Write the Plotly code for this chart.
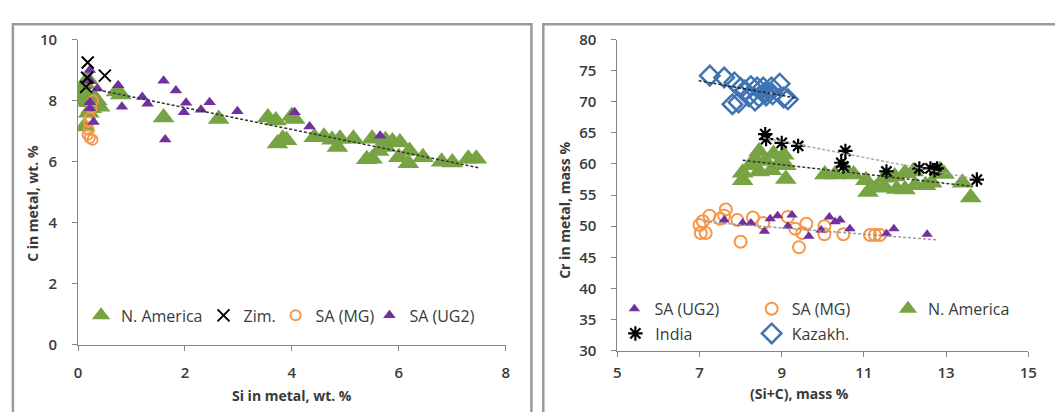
import plotly.graph_objects as go

# ---------------- Left panel data: C vs Si in metal ----------------
na_si = [0.0, 0.05, 0.12, 0.18, 0.12, 0.2, 0.3, 0.35, 0.25, 0.4, 0.12, 0.2, 0.72, 0.8, 1.6, 2.63,
         3.55, 3.7, 3.73, 3.83, 3.9, 4.0, 4.05, 4.42, 4.6, 4.75, 4.9, 4.85, 5.15, 5.4, 5.5, 5.5,
         5.62, 5.75, 5.88, 5.75, 6.0, 6.02, 6.18, 6.2, 6.45, 6.8, 7.0, 7.3, 7.45]
na_c = [8.25, 8.0, 8.55, 8.7, 8.2, 7.95, 8.1, 8.0, 7.75, 7.8, 7.15, 7.6, 8.3, 8.2, 7.45, 7.4,
        7.45, 7.35, 6.6, 6.75, 6.7, 7.5, 7.4, 6.8, 6.82, 6.72, 6.75, 6.48, 6.75, 6.08, 6.75, 6.1,
        6.35, 6.7, 6.66, 6.48, 6.15, 6.63, 5.95, 6.35, 6.15, 6.0, 5.97, 6.1, 6.1]
zim_si = [0.18, 0.5, 0.17, 0.15]
zim_c = [9.25, 8.82, 8.75, 8.45]
mg_si = [0.28, 0.25, 0.22, 0.2, 0.2, 0.18, 0.22, 0.27]
mg_c = [8.0, 7.75, 7.45, 7.3, 7.05, 6.88, 6.78, 6.72]
ug_si = [0.22, 0.22, 0.36, 0.22, 0.22, 0.29, 0.75, 0.82, 1.2, 1.3, 1.6, 1.83, 2.02, 1.98, 2.3,
         2.46, 2.98, 1.63, 4.05, 4.33, 5.65]
ug_c = [9.0, 8.65, 8.4, 7.95, 7.75, 7.3, 8.5, 7.8, 8.12, 7.9, 8.65, 8.33, 7.93, 7.62, 7.7,
        7.95, 7.65, 6.73, 7.62, 7.15, 6.85]
left_trend_si = [0.1, 7.5]
left_trend_c = [8.45, 5.8]

# ---------------- Right panel data: Cr vs (Si+C) ----------------
r_ug_x = [7.6, 8.05, 8.25, 8.58, 8.72, 8.9, 9.25, 9.15, 9.66, 9.96, 10.16, 10.3, 10.42, 10.66,
          11.55, 11.73, 12.54]
r_ug_y = [51.0, 50.5, 50.5, 49.2, 51.2, 51.7, 51.8, 50.0, 48.4, 49.4, 51.5, 50.7, 51.0, 49.6,
          48.8, 49.6, 48.7]
r_mg_x = [7.0, 7.03, 7.15, 7.08, 7.24, 7.5, 7.6, 7.64, 7.92, 8.0, 8.3, 8.55, 9.15, 9.33, 9.42,
          9.5, 9.6, 10.04, 10.04, 10.5, 11.15, 11.27, 11.39]
r_mg_y = [50.2, 48.9, 48.9, 50.8, 51.7, 51.2, 51.7, 52.7, 51.0, 47.5, 51.4, 50.5, 51.5, 49.6, 46.6,
          48.9, 50.4, 50.0, 48.7, 48.7, 48.6, 48.6, 48.6]
r_na_x = [8.05, 8.05, 8.25, 8.35, 8.45, 8.45, 8.6, 8.75, 8.8, 8.95, 9.05, 9.1, 9.1, 10.05, 10.3,
          10.6, 10.75, 11.05, 11.1, 11.3, 11.5, 11.5, 11.75, 11.8, 12.0, 12.0, 12.2, 12.25, 12.5,
          12.65, 12.85, 12.95, 13.4, 13.6]
r_na_y = [58.6, 57.4, 59.8, 60.8, 62.0, 58.8, 60.5, 59.0, 61.6, 60.2, 61.5, 59.8, 57.6, 58.3, 58.3,
          58.6, 58.3, 57.4, 55.5, 56.2, 56.3, 57.8, 58.0, 56.0, 55.9, 58.5, 58.8, 56.6, 56.6,
          57.0, 59.0, 58.4, 57.0, 54.6]
r_in_x = [8.6, 8.62, 9.0, 9.4, 10.55, 10.45, 10.5, 11.55, 12.35, 12.62, 12.78, 12.72, 13.75]
r_in_y = [64.8, 64.0, 63.4, 62.9, 62.1, 60.2, 59.6, 58.8, 59.3, 59.3, 59.3, 59.0, 57.5]
r_kz_x = [7.25, 7.6, 7.85, 8.0, 8.1, 8.25, 8.4, 8.55, 8.75, 8.95, 8.45, 8.62, 8.78, 9.05, 9.15,
          7.8, 7.95, 8.35, 8.2, 8.6]
r_kz_y = [74.2, 73.9, 73.1, 72.2, 71.8, 72.5, 72.3, 72.3, 72.3, 72.9, 70.8, 71.0, 71.2, 70.7, 70.4,
          69.6, 69.9, 70.2, 70.9, 71.5]
kz_trend_x, kz_trend_y = [6.98, 9.35], [73.4, 70.6]
in_trend_x, in_trend_y = [8.55, 13.7], [64.2, 57.6]
na_trend_x, na_trend_y = [8.05, 13.65], [60.6, 56.4]
sa_trend_x, sa_trend_y = [7.1, 12.8], [50.7, 47.8]

GREEN = "#77a343"
PURPLE = "#7030a0"
ORANGE = "#f79646"
BLUE = "#3d74b4"
FONT = "Open Sans"
TXT = "#3a3a3a"
AX = "#868686"

W, H = 1055, 412


def px_x(p):
    return p / W


def px_y(p):
    return 1 - p / H


fig = go.Figure()

# ----- left panel traces -----
fig.add_trace(go.Scatter(x=na_si, y=na_c, mode="markers", name="N. America", legend="legend",
                         xaxis="x", yaxis="y",
                         marker=dict(symbol="triangle-up", size=19, color=GREEN)))
fig.add_trace(go.Scatter(x=mg_si, y=mg_c, mode="markers", name="SA (MG)", legend="legend3",
                         xaxis="x", yaxis="y",
                         marker=dict(symbol="circle-open", size=10, color=ORANGE,
                                     line=dict(width=2, color=ORANGE))))
fig.add_trace(go.Scatter(x=ug_si, y=ug_c, mode="markers", name="SA (UG2)", legend="legend4",
                         xaxis="x", yaxis="y",
                         marker=dict(symbol="triangle-up", size=11, color=PURPLE)))
fig.add_trace(go.Scatter(x=zim_si, y=zim_c, mode="markers", name="Zim.", legend="legend2",
                         xaxis="x", yaxis="y",
                         marker=dict(symbol="x-thin-open", size=12, color="black",
                                     line=dict(width=2, color="black"))))
fig.add_trace(go.Scatter(x=left_trend_si, y=left_trend_c, mode="lines", showlegend=False,
                         xaxis="x", yaxis="y",
                         line=dict(color="#333333", width=1.5, dash="3px,2px")))

# ----- right panel traces -----
fig.add_trace(go.Scatter(x=r_mg_x, y=r_mg_y, mode="markers", name="SA (MG)", legend="legend6",
                         xaxis="x2", yaxis="y2",
                         marker=dict(symbol="circle-open", size=12, color=ORANGE,
                                     line=dict(width=2, color=ORANGE))))
fig.add_trace(go.Scatter(x=r_ug_x, y=r_ug_y, mode="markers", name="SA (UG2)", legend="legend5",
                         xaxis="x2", yaxis="y2",
                         marker=dict(symbol="triangle-up", size=10, color=PURPLE)))
fig.add_trace(go.Scatter(x=r_na_x, y=r_na_y, mode="markers", name="N. America", legend="legend7",
                         xaxis="x2", yaxis="y2",
                         marker=dict(symbol="triangle-up", size=19, color=GREEN)))
fig.add_trace(go.Scatter(x=r_in_x, y=r_in_y, mode="markers", name="India", legend="legend8",
                         xaxis="x2", yaxis="y2",
                         marker=dict(symbol="asterisk-open", size=12, color="black",
                                     line=dict(width=2.2, color="black"))))
fig.add_trace(go.Scatter(x=r_kz_x, y=r_kz_y, mode="markers", name="Kazakh.", legend="legend9",
                         xaxis="x2", yaxis="y2",
                         marker=dict(symbol="diamond-open", size=15, color=BLUE,
                                     line=dict(width=2.5, color=BLUE))))
for tx, ty, col in [(kz_trend_x, kz_trend_y, "#222222"), (in_trend_x, in_trend_y, "#a8a8a8"),
                    (na_trend_x, na_trend_y, "#333333"), (sa_trend_x, sa_trend_y, "#9a9a9a")]:
    fig.add_trace(go.Scatter(x=tx, y=ty, mode="lines", showlegend=False, xaxis="x2", yaxis="y2",
                             line=dict(color=col, width=1.5, dash="3px,2px")))

axis_common = dict(showgrid=False, zeroline=False, showline=True, linecolor=AX, linewidth=1,
                   ticks="outside", ticklen=5, tickcolor=AX,
                   tickfont=dict(family=FONT, size=15, color=TXT, weight=600))


def legend_at(text_x, text_y):
    # text starts ~40px right of the legend's left edge
    return dict(orientation="h", bgcolor="rgba(0,0,0,0)", borderwidth=0,
                font=dict(family=FONT, size=16, color=TXT), yanchor="middle",
                xanchor="left", itemclick=False, x=px_x(text_x - 40), y=px_y(text_y))


fig.update_layout(
    width=W, height=H, margin=dict(l=0, r=0, t=0, b=0),
    paper_bgcolor="white", plot_bgcolor="white",
    xaxis=dict(domain=[px_x(75), px_x(508)], range=[0, 8], dtick=2, anchor="y",
               ticklabelstandoff=9, **axis_common),
    yaxis=dict(domain=[px_y(351), px_y(30)], range=[0, 10], dtick=2, anchor="x",
               ticklabelstandoff=12, **axis_common),
    xaxis2=dict(domain=[px_x(621), px_x(1037)], range=[5, 15], tick0=5, dtick=2, anchor="y2",
                ticklabelstandoff=3, **axis_common),
    yaxis2=dict(domain=[px_y(357), px_y(30)], range=[30, 80], dtick=5, anchor="x2",
                ticklabelstandoff=12, **axis_common),
    legend=legend_at(118, 320),
    legend2=legend_at(242, 320),
    legend3=legend_at(315, 320),
    legend4=legend_at(410, 320),
    legend5=legend_at(658, 313),
    legend6=legend_at(797, 313),
    legend7=legend_at(935, 313),
    legend8=legend_at(659, 339),
    legend9=legend_at(797, 339),
    showlegend=True,
)

title_font = dict(family=FONT, size=14, color=TXT)
fig.add_annotation(text="<b>Si in metal, wt. %</b>", x=px_x(292), y=px_y(404), xref="paper",
                   yref="paper", showarrow=False, font=title_font, xanchor="center", yanchor="middle")
fig.add_annotation(text="<b>C in metal, wt. %</b>", x=px_x(29), y=px_y(202), xref="paper",
                   yref="paper", showarrow=False, font=title_font, textangle=-90,
                   xanchor="center", yanchor="middle")
fig.add_annotation(text="<b>(Si+C), mass %</b>", x=px_x(805), y=px_y(402), xref="paper",
                   yref="paper", showarrow=False, font=title_font, xanchor="center", yanchor="middle")
fig.add_annotation(text="<b>Cr in metal, mass %</b>", x=px_x(568), y=px_y(210), xref="paper",
                   yref="paper", showarrow=False, font=title_font, textangle=-90,
                   xanchor="center", yanchor="middle")

# chart-area frames
fig.add_shape(type="rect", xref="paper", yref="paper", x0=px_x(9), x1=px_x(534),
              y0=px_y(430), y1=px_y(14), line=dict(color="#9a9a9a", width=2.5))
fig.add_shape(type="rect", xref="paper", yref="paper", x0=px_x(546), x1=px_x(1070),
              y0=px_y(430), y1=px_y(14), line=dict(color="#9a9a9a", width=2.5))

fig.write_html("out.html")
